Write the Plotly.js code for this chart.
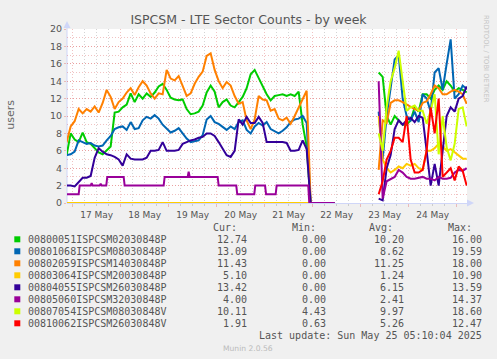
<!DOCTYPE html>
<html><head><meta charset="utf-8">
<script src="https://cdn.plot.ly/plotly-3.0.1.min.js"></script>
<style>html,body{margin:0;padding:0;background:#f0f0f0;}#chart{width:497px;height:359px;}</style>
</head><body><div id="chart"></div>
<script>
// ---------- data ----------
const names = ['00800051ISPCSM02030848P','00801068ISPCSM08030848P','00802059ISPCSM14030848P','00803064ISPCSM20030848P','00804055ISPCSM26030848P','00805060ISPCSM32030848P','00807054ISPCSM08030848V','00810062ISPCSM26030848V'];
const colors = ['#00cc00','#0066b3','#ff8000','#ffcc00','#330099','#990099','#ccff00','#ff0000'];
const curVals = [12.74,13.09,11.43,5.10,13.42,4.00,10.11,1.91];
const minVals = [0.00,0.00,0.00,0.00,0.00,0.00,4.43,0.63];
const avgVals = [10.20,8.62,11.25,1.24,6.15,2.41,9.97,5.26];
const maxVals = [16.00,19.59,18.00,10.90,13.59,14.37,18.60,12.47];

// time: hours after 2025-05-17 00:00, samples every 2 h
const seg1Hours = [-3,-1,1,3,5,7,9,11,13,15,17,19,21,23,25,27,29,31,33,35,37,39,41,43,45,47,49,51,53,55,57,59,61,63,65,67,69,71,73,75,77,79,81,83,85,87,89,91,93,95,97,99,101,103,105,107,109,111,113,115,117];
const zeroHours = [119,121,123,125,127,129,131];
const gapHour = 142;
const seg2Hours = [153,155,157,159,161,163,165,167,169,171,173,175,177,179,181,183,185,187,189,191,193,195,197];

const green1 = [5.5,8.0,7.3,7.0,8.1,7.0,6.8,6.3,5.8,5.6,6.0,6.5,10.4,10.5,11.0,11.3,12.6,11.6,12.5,12.0,12.6,12.2,12.7,13.4,13.7,13.0,12.1,11.9,11.8,11.9,10.8,10.2,10.3,10.5,11.2,12.7,13.5,12.8,11.0,11.6,11.9,11.2,11.0,11.6,12.2,13.2,14.8,15.3,14.3,13.3,12.5,11.8,12.3,12.4,12.5,12.3,12.5,12.3,12.8,9.0,6.5];
const blue1 = [5.5,5.6,5.9,7.2,7.0,6.8,6.9,6.6,6.5,6.6,7.2,7.7,8.5,8.7,8.8,8.4,9.3,8.5,8.6,9.5,9.9,9.7,10.1,9.7,9.0,8.5,8.1,8.3,8.6,8.0,7.4,7.0,7.1,7.2,7.8,9.6,10.0,9.3,9.1,8.7,8.4,8.8,8.5,9.3,9.5,8.4,8.0,8.8,9.2,8.9,9.3,8.5,8.2,8.0,8.3,8.7,9.3,9.6,9.7,10.0,9.2];
const orange1 = [7.0,8.8,9.4,10.8,10.3,10.8,10.5,11.1,10.4,11.5,13.0,12.2,10.8,11.6,12.0,12.7,13.2,12.4,13.3,14.0,13.5,12.6,12.0,12.6,12.5,15.3,14.3,14.1,14.6,13.5,12.3,12.6,13.7,14.5,15.1,16.9,17.2,15.3,14.0,13.2,13.9,13.5,12.3,11.4,11.6,9.5,8.5,9.6,12.3,11.9,11.8,10.6,10.8,9.7,9.5,9.8,9.1,10.0,11.0,11.9,12.9];
const gold1 = [0,0,0,0,0,0,0,0,0,0,0,0,0,0,0,0,0,0,0,0,0,0,0,0,0,0,0,0,0,0,0,0,0,0,0,0,0,0,0,0,0,0,0,0,0,0,0,0,0,0,0,0,0,0,0,0,0,0,0,0,0];
const indigo1 = [2.0,2.0,1.9,2.4,2.9,2.9,3.1,5.2,6.3,5.9,5.6,5.5,5.3,5.0,4.3,5.6,5.1,5.0,5.0,5.0,5.2,6.0,6.0,6.1,7.0,6.0,6.0,6.0,6.1,6.8,7.0,7.2,7.3,7.5,7.6,8.0,8.0,7.7,7.0,6.3,5.5,5.3,6.0,9.6,9.0,9.9,9.2,9.2,9.9,9.2,7.0,7.0,7.0,7.0,7.0,6.9,6.0,6.0,6.1,7.2,6.2];
// purple is a step series: change points (hours) and values
const purple1Hours = [-3,3.0,3.5,9.0,9.5,10.0,13.5,14.0,14.5,16.8,17.3,25.5,26.0,45.5,46.0,57.5,58.0,58.5,72.5,73.0,81.8,82.3,90.8,91.3,96.2,96.7,101.5,102.0,117.8,118.3,131];
const purple1 = [1,1,2,2,2.3,2,2,2.2,2,2,3,3,2,2,3,3,3.6,3,3,2,2,1,1,2,2,1,1,2,2,0,0];

const green2 = [15.0,14.5,10.0,9.0,10.0,9.5,9.0,9.0,9.5,11.0,10.5,12.5,12.5,12.0,13.0,13.5,13.0,14.0,13.5,12.8,13.2,13.0,12.7];
const blue2 = [10.5,5.0,10.0,13.0,16.5,17.0,12.0,10.0,9.5,10.5,9.3,12.5,12.0,10.5,15.0,15.5,13.0,16.0,18.8,12.0,12.5,13.5,13.1];
const orange2 = [3.8,9.5,9.2,11.5,11.8,11.8,11.6,11.3,11.0,10.8,10.6,11.5,11.7,12.5,13.5,13.2,12.5,12.5,12.8,13.0,12.8,12.5,11.4];
const gold2 = [10.0,5.0,4.0,3.5,3.8,4.2,4.0,4.5,4.3,4.5,4.0,3.8,6.0,6.0,6.3,6.8,6.5,6.0,6.2,5.8,5.5,5.1,5.1];
const indigo2 = [0.5,0.3,4.0,5.5,8.5,9.5,9.0,9.5,9.8,9.3,10.0,9.8,6.0,2.0,4.5,2.0,6.0,10.0,11.0,10.5,12.0,12.3,13.4];
const purple2 = [14.0,0.5,2.5,2.8,3.0,3.8,3.5,3.0,2.8,2.8,2.9,3.0,2.8,2.8,2.6,3.0,2.8,2.8,2.9,3.5,3.8,3.7,4.0];
const lime2 = [8.0,6.0,11.0,14.0,15.5,17.5,14.0,10.6,11.0,11.2,10.6,10.6,9.1,10.6,12.5,5.6,10.0,6.4,4.9,6.8,10.8,11.0,8.8];
const red2 = [1.0,2.5,5.0,6.0,7.5,7.5,7.0,10.0,5.0,3.5,3.5,3.8,6.0,11.0,8.0,12.0,3.0,3.5,4.0,2.6,4.2,3.7,2.0];

const xTickLabelFormat = '%d %b';
const yTicks = [0,2,4,6,8,10,12,14,16,18,20];

// ---------- build ----------
const BASE = Date.UTC(2025,4,17,0,0,0);
function toDate(h){ return new Date(BASE + h*3600000).toISOString().replace('T',' ').slice(0,19); }
function fullP(seg1, seg2){
  const zeros = zeroHours.map(()=>0);
  return {
    x: seg1Hours.concat(zeroHours,[gapHour],seg2Hours).map(toDate),
    y: seg1.concat(zeros,[null],seg2)
  };
}
const series = [
  fullP(green1, green2),
  fullP(blue1, blue2),
  fullP(orange1, orange2),
  fullP(gold1, gold2),
  fullP(indigo1, indigo2),
  {x: purple1Hours.concat([gapHour],seg2Hours).map(toDate), y: purple1.concat([null],purple2)},
  {x: seg2Hours.map(toDate), y: lime2},
  {x: seg2Hours.map(toDate), y: red2}
];
const traces = series.map((s,k)=>({type:'scatter',mode:'lines',x:s.x,y:s.y,name:names[k],
  line:{color:colors[k],width:2},connectgaps:false,hoverinfo:'skip'}));

// pixel helpers for layout placement
const L=67, R=467, T=29, B=203;
const PX = px => (px-L)/(R-L);
const PY = py => (B-py)/(B-T);

const annotations = [];
const shapes = [];
const mono = {family:'DejaVu Sans Mono', size:10, color:'#555'};
[['Cur:',212],['Min:',290.7],['Avg:',368],['Max:',447]].forEach(([t,px])=>{
  annotations.push({text:t,xref:'paper',yref:'paper',x:PX(px-1),y:PY(227.7),xanchor:'left',yanchor:'middle',showarrow:false,font:mono});
});
const valCols = [[curVals,248.3],[minVals,326.7],[avgVals,405],[maxVals,482.7]];
names.forEach((n,k)=>{
  const py = 239.3 + 12*k;
  shapes.push({type:'rect',xref:'paper',yref:'paper',x0:PX(14.3),x1:PX(20.3),y0:PY(py+3),y1:PY(py-3),fillcolor:colors[k],line:{width:0}});
  annotations.push({text:n,xref:'paper',yref:'paper',x:PX(25.7),y:PY(py),xanchor:'left',yanchor:'middle',showarrow:false,font:mono});
  valCols.forEach(([arr,px])=>{
    annotations.push({text:arr[k].toFixed(2),xref:'paper',yref:'paper',x:PX(px+1),y:PY(py),xanchor:'right',yanchor:'middle',showarrow:false,font:mono});
  });
});
annotations.push({text:'Last update: Sun May 25 05:10:04 2025',xref:'paper',yref:'paper',x:PX(483.7),y:PY(335.5),xanchor:'right',yanchor:'middle',showarrow:false,font:mono});
annotations.push({text:'Munin 2.0.56',xref:'paper',yref:'paper',x:PX(248),y:PY(348.3),xanchor:'center',yanchor:'middle',showarrow:false,font:{family:'DejaVu Sans',size:7.6,color:'#bbbbbb'}});
annotations.push({text:'users',xref:'paper',yref:'paper',x:PX(10.7),y:PY(115),xanchor:'center',yanchor:'middle',textangle:-90,showarrow:false,font:{family:'DejaVu Sans',size:11,color:'#666'}});
annotations.push({text:'RRDTOOL / TOBI OETIKER',xref:'paper',yref:'paper',x:PX(486.5),y:PY(58.5),xanchor:'center',yanchor:'middle',textangle:90,showarrow:false,font:{family:'DejaVu Sans',size:6.8,color:'#c4c4c4'}});

// axis arrows
const axisCol = '#cfd6f8';
shapes.push({type:'line',xref:'paper',yref:'paper',x0:PX(67),x1:PX(67),y0:PY(203),y1:PY(24),line:{color:axisCol,width:1},layer:'below'});
shapes.push({type:'path',xref:'paper',yref:'paper',path:`M ${PX(63.5)} ${PY(28)} L ${PX(67)} ${PY(21)} L ${PX(70.5)} ${PY(28)} Z`,fillcolor:axisCol,line:{width:0}});
shapes.push({type:'path',xref:'paper',yref:'paper',path:`M ${PX(467)} ${PY(199.5)} L ${PX(474)} ${PY(203)} L ${PX(467)} ${PY(206.5)} Z`,fillcolor:axisCol,line:{width:0}});

const redGrid = 'rgba(225,120,120,0.45)';
const grayGrid = 'rgba(160,160,160,0.45)';
const layout = {
  width:497,height:359,
  margin:{l:L,r:497-R,t:T,b:359-B,pad:0},
  paper_bgcolor:'#f0f0f0',plot_bgcolor:'#ffffff',
  showlegend:false,
  title:{text:'ISPCSM - LTE Sector Counts - by week',font:{family:'DejaVu Sans',size:12.5,color:'#555'},x:0.5,xref:'container',xanchor:'center',y:1-19.5/359,yref:'container',yanchor:'middle'},
  xaxis:{type:'date',range:['2025-05-16 21:10:04','2025-05-25 05:10:04'],
    tick0:'2025-05-17 00:00:00',dtick:86400000,tickformat:xTickLabelFormat,ticklabelmode:'period',
    showgrid:true,gridcolor:redGrid,griddash:'1px,2px',gridwidth:1,
    ticks:'outside',ticklen:3,tickcolor:redGrid,
    minor:{dtick:6*3600000,showgrid:true,gridcolor:grayGrid,griddash:'1px,2px',ticks:'outside',ticklen:2,tickcolor:grayGrid},
    showline:true,linecolor:axisCol,linewidth:1,layer:'below traces',zeroline:false,
    tickfont:{family:'DejaVu Sans',size:9,color:'#555'},fixedrange:true},
  yaxis:{range:[0,20],tickvals:yTicks,ticktext:yTicks.map(String),
    showgrid:true,gridcolor:redGrid,griddash:'1px,2px',
    minor:{dtick:1,showgrid:true,gridcolor:redGrid,griddash:'1px,2px'},
    ticks:'outside',ticklen:2,tickcolor:redGrid,
    showline:false,zeroline:false,
    tickfont:{family:'DejaVu Sans',size:9.5,color:'#555'},fixedrange:true},
  annotations:annotations,
  shapes:shapes
};
Plotly.newPlot('chart',traces,layout,{staticPlot:true,displayModeBar:false});
</script></body></html>
